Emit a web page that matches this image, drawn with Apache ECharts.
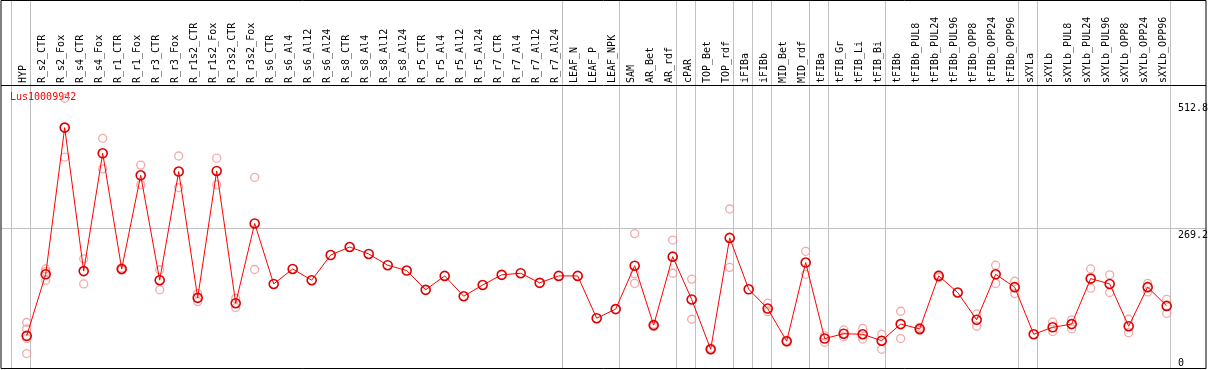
<!DOCTYPE html>
<html>
<head>
<meta charset="utf-8">
<script src="https://cdn.jsdelivr.net/npm/echarts@6/dist/echarts.min.js"></script>
<style>html,body{margin:0;padding:0;background:#fff;}#c{width:1209px;height:370px;}</style>
</head>
<body>
<div id="c"></div>
<script>
const title = 'Lus10009942';
const categories = ['HYP','R_s2_CTR','R_s2_Fox','R_s4_CTR','R_s4_Fox','R_r1_CTR','R_r1_Fox','R_r3_CTR','R_r3_Fox','R_r1s2_CTR','R_r1s2_Fox','R_r3s2_CTR','R_r3s2_Fox','R_s6_CTR','R_s6_Al4','R_s6_Al12','R_s6_Al24','R_s8_CTR','R_s8_Al4','R_s8_Al12','R_s8_Al24','R_r5_CTR','R_r5_Al4','R_r5_Al12','R_r5_Al24','R_r7_CTR','R_r7_Al4','R_r7_Al12','R_r7_Al24','LEAF_N','LEAF_P','LEAF_NPK','SAM','AR_Bet','AR_rdf','cPAR','TOP_Bet','TOP_rdf','iFIBa','iFIBb','MID_Bet','MID_rdf','tFIBa','tFIB_Gr','tFIB_Li','tFIB_Bi','tFIBb','tFIBb_PUL8','tFIBb_PUL24','tFIBb_PUL96','tFIBb_OPP8','tFIBb_OPP24','tFIBb_OPP96','sXYLa','sXYLb','sXYLb_PUL8','sXYLb_PUL24','sXYLb_PUL96','sXYLb_OPP8','sXYLb_OPP24','sXYLb_OPP96'];
const means = [69,184,458,190,410,194,369,173,376,140,377,130,279,166,194,173,220,235,222,201,191,155,181,143,164,183,186,168,181,181,102,119,200,89,217,137,44,252,156,120,59,206,64,73,72,60,91,82,181,150,99,184,160,72,85,91,176,166,87,160,125];
const rep1 = [94,194,512.8,213,438,196,388,192,405,148,401,139,365,null,null,null,null,null,null,null,null,null,null,null,null,null,null,null,null,null,null,null,260,91,248,175,46,306,null,130,61,227,69,80,83,72,115,85,183,null,110,201,171,null,95,99,194,183,100,167,137];
const rep2 = [82,189,403,166,381,192,351,155,346,133,351,122,193,null,null,null,null,null,null,null,null,null,null,null,null,null,null,null,null,null,null,null,185,87,186,100,43,197,null,114,58,184,57,67,63,44,64,79,178,null,87,167,148,null,77,82,158,150,75,151,111];
const rep3 = [64,173,null,null,null,null,null,null,null,null,null,null,null,null,null,null,null,null,null,null,null,null,null,null,null,null,null,null,null,null,null,null,167,null,null,null,null,null,null,null,null,null,null,null,null,null,null,null,null,null,null,null,null,null,null,null,null,null,null,null,null];
const rep4 = [36,null,null,null,null,null,null,null,null,null,null,null,null,null,null,null,null,null,null,null,null,null,null,null,null,null,null,null,null,null,null,null,null,null,null,null,null,null,null,null,null,null,null,null,null,null,null,null,null,null,null,null,null,null,null,null,null,null,null,null,null];
const groupBreaks = [-1,0,28,31,34,35,37,38,39,41,42,45,52,53,60];
const refLine = 269.2;
const yTicks = ['0','269.2','512.8'];

const MONO = 'DejaVu Sans Mono';
const SHIFT = 2; // keep all x coordinates positive on the value axis
const BREAK_OFF = 0.2;
const Y_MIN = 7.1, Y_MAX = 696.4;
const chart = echarts.init(document.getElementById('c'), null, {renderer:'canvas'});

const repData = [];
[rep1,rep2,rep3,rep4].forEach(arr => arr.forEach((v,i) => { if (v !== null) repData.push([i + SHIFT, v]); }));
const meanData = means.map((v,i) => [i + SHIFT, v]);

const breakSeries = groupBreaks.map(b => ({
  type:'line', xAxisIndex:0, yAxisIndex:0, z:8, silent:true, symbol:'none', clip:false,
  lineStyle:{color:'#c0c0c0', width:1},
  data:[[b + BREAK_OFF + SHIFT, Y_MIN], [b + BREAK_OFF + SHIFT, Y_MAX]]
}));

chart.setOption({
  animation: false,
  backgroundColor: '#fff',
  title: {text: title, left: 10, top: 92, padding: 0, z: 9, backgroundColor: 'rgba(0,0,0,0)',
    textStyle:{color:'#ff0000', fontFamily: MONO, fontSize: 10, fontWeight:'normal'}},
  grid: [
    {left: 1, right: 3, top: 0, bottom: 1},
    {left: 13.8, width: 1159, top: 85, height: 1}
  ],
  xAxis: [
    {type:'value', gridIndex:0, min:-1.3526 + SHIFT, max:62.07 + SHIFT, show:false},
    {type:'category', gridIndex:1, position:'top', data: categories, boundaryGap:true,
     axisLine:{show:false}, axisTick:{show:false}, splitLine:{show:false},
     axisLabel:{interval:0, rotate:90, margin:2, fontSize:10, fontFamily:MONO, color:'#000'}}
  ],
  yAxis: [
    {type:'value', gridIndex:0, min:Y_MIN, max:Y_MAX, show:false},
    {type:'value', gridIndex:1, show:false}
  ],
  series: [
    {type:'line', xAxisIndex:0, yAxisIndex:0, data:[], z:8, silent:true,
     markLine:{silent:true, symbol:'none', animation:false, label:{show:false},
       lineStyle:{color:'#c0c0c0', width:1, type:'solid'},
       data: [{yAxis: refLine}]}}
  ].concat(breakSeries).concat([
    {type:'scatter', xAxisIndex:0, yAxisIndex:0, data: repData, z:10, symbol:'circle', symbolSize:8,
     itemStyle:{color:'rgba(0,0,0,0)', borderColor:'#f09494', borderWidth:1.3}},
    {type:'line', xAxisIndex:0, yAxisIndex:0, data: meanData, z:11, symbol:'circle', symbolSize:9, showAllSymbol:true,
     lineStyle:{color:'#ff0000', width:1},
     itemStyle:{color:'rgba(0,0,0,0)', borderColor:'#dd0000', borderWidth:1.6}}
  ])
});

const labels = yTicks.map(t => {
  let py = chart.convertToPixel({yAxisIndex:0}, parseFloat(t));
  py = Math.max(103, Math.min(358, py + 2));
  return {type:'text', left: 1178, top: py, z: 50,
    style:{text: t, fill:'#000', font: '10px "' + MONO + '"'}};
});
chart.setOption({
  graphic: [
    {type:'rect', z:100, silent:true, shape:{x:1, y:0.5, width:1205, height:368}, style:{fill:null, stroke:'#000', lineWidth:1}},
    {type:'line', z:100, silent:true, shape:{x1:1, y1:85.5, x2:1206, y2:85.5}, style:{stroke:'#000', lineWidth:1}}
  ].concat(labels)
});
</script>
</body>
</html>
